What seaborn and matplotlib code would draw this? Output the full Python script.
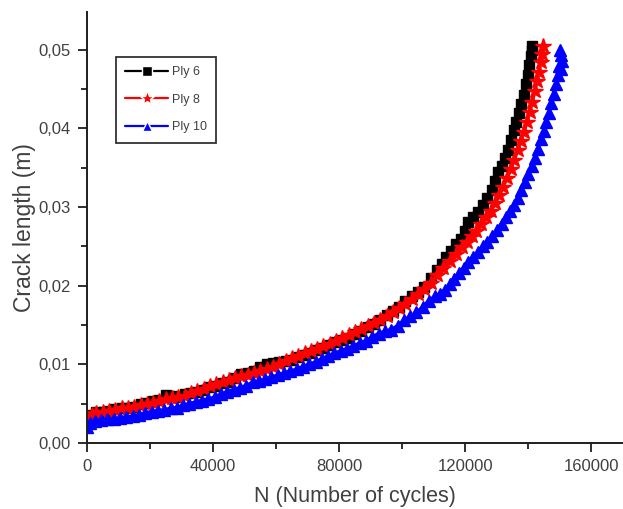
import matplotlib
matplotlib.use("Agg")
import matplotlib.pyplot as plt
import matplotlib.ticker as mticker
import pandas as pd
import seaborn as sns

# Fatigue crack growth: crack length (m) against number of cycles N
ply6_cycles = [0, 1500, 3000, 5000, 7000, 9000, 11000, 13000, 15000, 17000,
               19000, 21000, 23000, 25000, 27000, 29000, 31000, 33000, 35000, 37000,
               39000, 41000, 43000, 45000, 47000, 49000, 51000, 53000, 55000, 57000,
               59000, 61000, 63000, 65000, 67000, 69000, 71000, 73000, 75000, 77000,
               79000, 81000, 83000, 85000, 87000, 89000, 91000, 93000, 95000, 97000,
               99000, 101000, 103000, 105000, 107000, 109000, 111000, 112500, 114000, 115500,
               117000, 118500, 120000, 121000, 122500, 124000, 125500, 127000, 128500, 129500,
               130500, 131500, 132500, 133500, 134500, 135500, 136200, 137000, 137800, 138500,
               139200, 139800, 140300, 140800, 141000, 141200]
ply6_length = [0.0030, 0.0036, 0.0039, 0.0040, 0.0041, 0.0043, 0.0044, 0.0045, 0.0046, 0.0049,
               0.0051, 0.0053, 0.0055, 0.0061, 0.0060, 0.0059, 0.0062, 0.0064, 0.0065, 0.0067,
               0.0071, 0.0073, 0.0076, 0.0078, 0.0082, 0.0088, 0.0089, 0.0091, 0.0097, 0.0100,
               0.0102, 0.0103, 0.0104, 0.0106, 0.0109, 0.0112, 0.0115, 0.0118, 0.0121, 0.0124,
               0.0128, 0.0131, 0.0134, 0.0139, 0.0143, 0.0147, 0.0151, 0.0157, 0.0163, 0.0168,
               0.0173, 0.0180, 0.0187, 0.0192, 0.0198, 0.0210, 0.0220, 0.0228, 0.0236, 0.0244,
               0.0253, 0.0259, 0.0270, 0.0281, 0.0287, 0.0294, 0.0303, 0.0311, 0.0322, 0.0333,
               0.0344, 0.0352, 0.0362, 0.0373, 0.0385, 0.0398, 0.0408, 0.0419, 0.0431, 0.0443,
               0.0456, 0.0468, 0.0480, 0.0492, 0.0500, 0.0505]

ply8_cycles = [0, 1500, 3000, 5000, 7000, 9000, 11000, 13000, 15000, 17000,
               19000, 21000, 23000, 25000, 27000, 29000, 31000, 33000, 35000, 37000,
               39000, 41000, 43000, 45000, 47000, 49000, 51000, 53000, 55000, 57000,
               59000, 61000, 63000, 65000, 67000, 69000, 71000, 73000, 75000, 77000,
               79000, 81000, 83000, 85000, 87000, 89000, 91000, 93000, 95000, 97000,
               99000, 101000, 103000, 105000, 107000, 109000, 111000, 113000, 115000, 117000,
               119000, 120500, 122000, 123500, 125000, 126500, 128000, 129500, 130800, 132000,
               133200, 134400, 135500, 136600, 137600, 138600, 139500, 140400, 141200, 142000,
               142700, 143300, 143900, 144300, 144600]
ply8_length = [0.0032, 0.0036, 0.0038, 0.0039, 0.0041, 0.0042, 0.0044, 0.0045, 0.0046, 0.0048,
               0.0050, 0.0051, 0.0053, 0.0056, 0.0057, 0.0058, 0.0060, 0.0063, 0.0066, 0.0069,
               0.0072, 0.0075, 0.0077, 0.0080, 0.0082, 0.0085, 0.0087, 0.0089, 0.0092, 0.0094,
               0.0097, 0.0100, 0.0104, 0.0108, 0.0111, 0.0114, 0.0117, 0.0120, 0.0123, 0.0126,
               0.0130, 0.0133, 0.0137, 0.0141, 0.0145, 0.0149, 0.0153, 0.0157, 0.0162, 0.0167,
               0.0172, 0.0177, 0.0183, 0.0189, 0.0196, 0.0204, 0.0213, 0.0222, 0.0231, 0.0240,
               0.0249, 0.0256, 0.0263, 0.0270, 0.0278, 0.0287, 0.0295, 0.0305, 0.0315, 0.0326,
               0.0337, 0.0348, 0.0360, 0.0372, 0.0384, 0.0396, 0.0408, 0.0421, 0.0434, 0.0447,
               0.0460, 0.0472, 0.0484, 0.0495, 0.0505]

ply10_cycles = [0, 1000, 2500, 4500, 6500, 8500, 10500, 12500, 14500, 16500,
                18500, 20500, 22500, 24500, 26500, 28500, 30500, 32500, 34500, 36500,
                38500, 40500, 42500, 44500, 46500, 48500, 50500, 52500, 54500, 56500,
                58500, 60500, 62500, 64500, 66500, 68500, 70500, 72500, 74500, 76500,
                78500, 80500, 82500, 84500, 86500, 88500, 90500, 92500, 94500, 96500,
                98500, 100500, 102500, 104500, 106500, 108500, 110500, 112000, 113500, 115000,
                116500, 118000, 119500, 121000, 122500, 124000, 125500, 127000, 128500, 130000,
                131500, 133000, 134300, 135500, 136700, 137800, 138900, 140000, 141000, 142000,
                143000, 144000, 144900, 145700, 146500, 147300, 148000, 148700, 149300, 149800,
                150400, 150700, 150300, 149900]
ply10_length = [0.0020, 0.0025, 0.0028, 0.0029, 0.0030, 0.0031, 0.0032, 0.0033, 0.0034, 0.0036,
                0.0038, 0.0040, 0.0041, 0.0042, 0.0044, 0.0045, 0.0048, 0.0050, 0.0052, 0.0054,
                0.0056, 0.0058, 0.0062, 0.0065, 0.0068, 0.0070, 0.0073, 0.0077, 0.0079, 0.0081,
                0.0084, 0.0086, 0.0089, 0.0091, 0.0094, 0.0097, 0.0100, 0.0103, 0.0107, 0.0110,
                0.0114, 0.0117, 0.0120, 0.0123, 0.0127, 0.0130, 0.0135, 0.0139, 0.0142, 0.0144,
                0.0149, 0.0156, 0.0161, 0.0166, 0.0173, 0.0181, 0.0187, 0.0189, 0.0195, 0.0202,
                0.0209, 0.0216, 0.0223, 0.0230, 0.0237, 0.0243, 0.0250, 0.0256, 0.0263, 0.0271,
                0.0279, 0.0287, 0.0295, 0.0303, 0.0312, 0.0322, 0.0332, 0.0342, 0.0352, 0.0363,
                0.0374, 0.0386, 0.0397, 0.0408, 0.0420, 0.0432, 0.0444, 0.0456, 0.0468, 0.0479,
                0.0476, 0.0486, 0.0493, 0.0500]

series_names = ["Ply 6", "Ply 8", "Ply 10"]
series_colors = ["#000000", "#ff0000", "#0000ff"]
series_markers = ["s", "*", "^"]
series_msize = [7.5, 11.5, 8.5]
legend_msize = [6.5, 11, 7.5]

frames = []
for name, n, a in zip(series_names,
                      [ply6_cycles, ply8_cycles, ply10_cycles],
                      [ply6_length, ply8_length, ply10_length]):
    frames.append(pd.DataFrame({"N": n, "a": a, "series": name}))
df = pd.concat(frames, ignore_index=True)

sns.set_style("ticks")
plt.rcParams["font.family"] = ["Liberation Sans", "DejaVu Sans"]
text_color = "#404040"
axis_color = "#1e1e1e"

fig = plt.figure(figsize=(6.23, 5.09), dpi=100)
ax = fig.add_axes([0.1396, 0.1297, 0.8604, 0.8467])

sns.lineplot(data=df, x="N", y="a", hue="series", style="series",
             hue_order=series_names, style_order=series_names,
             palette=dict(zip(series_names, series_colors)),
             markers=dict(zip(series_names, series_markers)),
             dashes=False, sort=False, estimator=None,
             linewidth=2.6, markersize=7, markeredgewidth=1.0,
             ax=ax)
for line, c, ms in zip(ax.lines, series_colors, series_msize):
    line.set_markeredgecolor(c)
    line.set_markersize(ms)

ax.set_xlim(0, 170000)
ax.set_ylim(0, 0.0548)
ax.xaxis.set_major_locator(mticker.MultipleLocator(40000))
ax.xaxis.set_minor_locator(mticker.MultipleLocator(20000))
ax.yaxis.set_major_locator(mticker.MultipleLocator(0.01))
ax.yaxis.set_minor_locator(mticker.MultipleLocator(0.005))
ax.xaxis.set_major_formatter(mticker.FuncFormatter(lambda v, p: f"{v:.0f}"))
ax.yaxis.set_major_formatter(mticker.FuncFormatter(lambda v, p: f"{v:.2f}".replace(".", ",")))

ax.tick_params(axis="both", which="major", direction="out", length=6.5, width=1.3,
               labelsize=12, labelcolor=text_color, color=axis_color, pad=5)
ax.tick_params(axis="both", which="minor", direction="out", length=4, width=1.3,
               color=axis_color)
for side in ["top", "right"]:
    ax.spines[side].set_visible(False)
for side in ["left", "bottom"]:
    ax.spines[side].set_linewidth(1.4)
    ax.spines[side].set_color(axis_color)

ax.set_xlabel("N (Number of cycles)", fontsize=15.5, color=text_color, labelpad=9)
ax.set_ylabel("Crack length (m)", fontsize=16.5, color=text_color, labelpad=2)

leg = ax.legend(loc="upper left", bbox_to_anchor=(0.054, 0.896), borderaxespad=0,
                frameon=True, fancybox=False, edgecolor="#000000", fontsize=9,
                handlelength=3.4, labelspacing=1.25, borderpad=0.75,
                handletextpad=0.3, labelcolor=text_color)
leg.get_frame().set_linewidth(1.3)
for h, ms in zip(leg.legend_handles, legend_msize):
    h.set_markersize(ms)
    h.set_linewidth(1.6)

fig.savefig("out.png", dpi=100)
